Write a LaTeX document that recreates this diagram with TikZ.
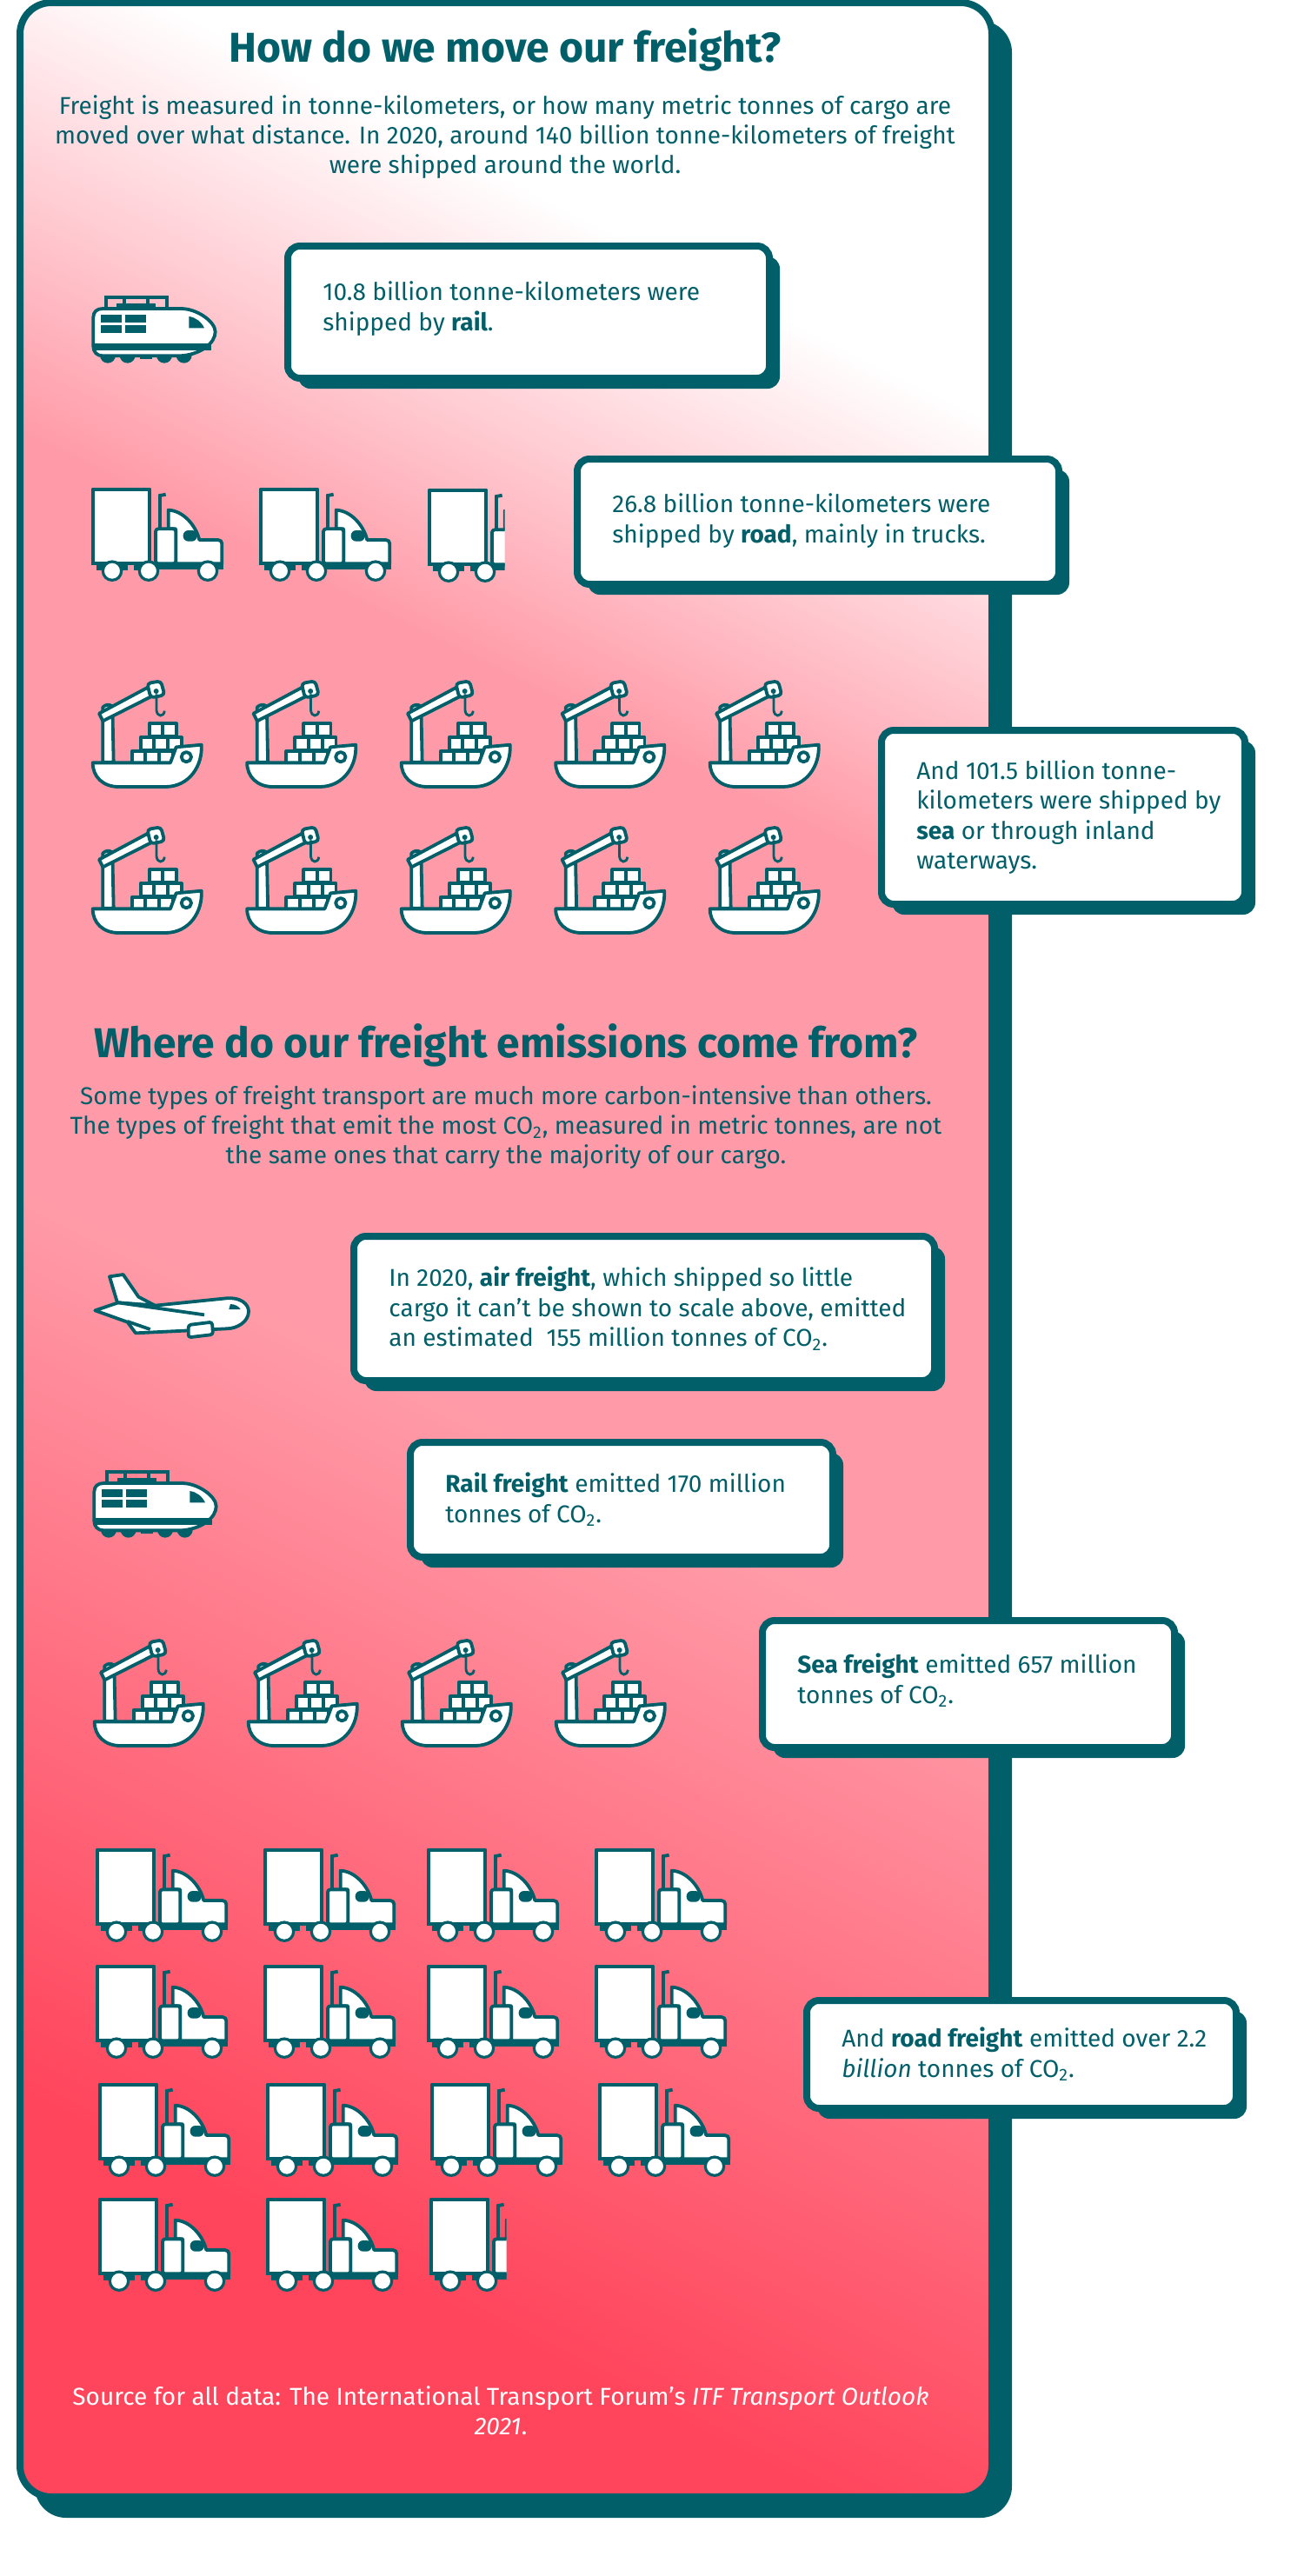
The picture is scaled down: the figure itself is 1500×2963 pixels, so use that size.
\documentclass[tikz,border=0pt]{standalone}
\usepackage{fontspec}
\setmainfont{Fira Sans}
\usetikzlibrary{shadows,positioning}

\definecolor{freightteal}{HTML}{005F69}
\definecolor{freightpink}{HTML}{FF9BA8}
\definecolor{freightred}{HTML}{FF455C}

\pgfdeclareverticalshading{panelgrad}{1701bp}{color(0bp)=(freightred); color(295bp)=(freightred); color(758bp)=(freightpink); color(1145bp)=(freightpink); color(1400bp)=(white); color(1701bp)=(white)}

\newcommand{\truckparts}{
	\fill[iconfill] (45,288) rectangle (252,300);
	\fill[iconfill] (62,298) rectangle (170,318);
	\fill[iconfill] (192,298) rectangle (265,318);
	\draw[iconline] (50,38) rectangle (247,293);
	% Exhaust
	\draw[freightteal, line width=1.9pt] (282,175) -- (282,60) -- (302,56);
	\draw[iconline] (311,175) -- (311,110) .. controls (360,112) and (405,160) .. (418,213) -- (482,213)
		.. controls (490,213) and (496,218) .. (496,226) -- (496,295) -- (337,295) -- (337,175) -- cycle;
	\draw[iconline, rounded corners=1.5pt] (267,295) -- (267,175) -- (337,175) -- (337,295) -- cycle;
	\fill[iconfill, rounded corners=3pt] (362,180) rectangle (410,218);
	\fill[iconfill] (262,292) rectangle (500,315);
	% Wheels
	\foreach \wx in {117,243,447} {
		\draw[freightteal, fill=white, line width=1.6pt] (\wx,320) circle (32);
	}
}

\tikzset{
	headline/.style={text=freightteal, inner sep=0, font=\fontsize{24}{29}\selectfont\bfseries},
	bodytext/.style={text=freightteal, inner sep=0, align=center, font=\fontsize{14}{17}\selectfont},
	infobox/.style={draw=freightteal, line width=4pt, fill=white, rounded corners=7pt, inner sep=0pt,
		general shadow={fill=freightteal, shadow xshift=6pt, shadow yshift=-6pt}},
	infotext/.style={text=freightteal, inner sep=0pt, align=left, font=\fontsize{14}{17.3}\selectfont},
	icon/.style={scale=1/3},
	iconline/.style={draw=freightteal, line width=1.9pt, fill=white, line join=round},
	iconfill/.style={fill=freightteal},
	trainicon/.pic={
		% Roof gear
		\draw[freightteal, line width=1.9pt] (125,100) -- (125,67) -- (335,67) -- (335,100);
		\draw[freightteal, line width=1.9pt] (190,67) -- (190,90) (270,67) -- (270,90);
		\fill[iconfill] (162,87) rectangle (297,102);
		\draw[iconline] (82,225) -- (82,135) .. controls (82,115) and (95,105) .. (115,105) -- (385,105)
			.. controls (440,105) and (503,150) .. (503,185) .. controls (503,225) and (450,265) .. (380,268)
			-- (115,268) .. controls (95,268) and (82,255) .. (82,235) -- cycle;
		\fill[iconfill] (78,225) rectangle (488,248);
		\foreach \wx in {132,200,327,395} {
			\fill[iconfill] (\wx-27,266) arc (180:360:27 and -27) -- cycle;
		}
		\fill[iconfill] (243,268) rectangle (285,278);
		% Windows
		\fill[iconfill] (108,126) rectangle (180,152);
		\fill[iconfill] (192,126) rectangle (264,152);
		\fill[iconfill] (108,162) rectangle (180,188);
		\fill[iconfill] (192,162) rectangle (264,188);
		\fill[iconfill] (412,132) -- (412,172) -- (465,172) .. controls (455,150) and (435,135) .. (412,132) -- cycle;
	},
	truckicon/.pic={\truckparts},
	truckcrop/.pic={
		\clip (0,0) rectangle (311,380);
		\truckparts
	},
	shipicon/.pic={
		% Crane
		\draw[iconline] (85,320) -- (85,130) .. controls (95,120) and (110,120) .. (118,128) -- (122,320) -- cycle;
		\draw[iconline] (72,152) -- (240,62) -- (255,92) -- (85,178) -- cycle;
		\draw[iconline, rounded corners=2pt] (238,48) -- (285,40) -- (298,88) -- (250,98) -- cycle;
		\fill[iconfill] (269,75) circle (9);
		\draw[freightteal, line width=1.4pt] (270,85) -- (270,140) .. controls (272,165) and (295,165) .. (298,143);
		% Cargo
		\foreach \bx in {245,292} {\draw[iconline] (\bx,187) rectangle ++(47,44);}
		\foreach \bx in {215,262,310} {\draw[iconline] (\bx,235) rectangle ++(47,44);}
		\foreach \bx in {185,232,280} {\draw[iconline] (\bx,283) rectangle ++(47,40);}
		\draw[iconline] (50,322) -- (318,322) -- (338,268) -- (425,260) .. controls (430,330) and (385,405) .. (300,405)
			-- (140,405) .. controls (85,405) and (50,370) .. (50,322) -- cycle;
		\draw[iconline] (373,302) circle (17);
	},
	planeicon/.pic={
		\draw[iconline] (105,145) -- (78,55) -- (125,48) -- (178,125) -- (235,155) -- cycle;
		\draw[iconline] (28,172) -- (108,145) -- (235,155) -- (480,130) .. controls (530,125) and (558,150) .. (558,175)
			.. controls (558,210) and (520,235) .. (480,235) -- (168,250) -- (140,212) -- cycle;
		\draw[freightteal, line width=1.9pt] (108,145) -- (405,187) (140,210) -- (218,237);
		\draw[iconline, rounded corners=1.5pt] (350,222) -- (432,212) -- (435,255) -- (350,265) -- cycle;
		\fill[iconfill] (495,150) .. controls (510,150) and (525,158) .. (530,168) -- (490,168) -- cycle;
	}
}

\begin{document}
\begin{tikzpicture}[x=0.5pt,y=-0.5pt]
	\useasboundingbox (0,0) rectangle (1500,2963);

	% Panel
	\fill[freightteal, rounded corners=18pt] (40,24) rectangle (1164,2896);
	\begin{scope}
		\clip[rounded corners=18pt] (23,3) rectangle (1141,2872);
		\node[rotate=-26.6, inner sep=0] (panelshade) at (580,1437) {\pgfuseshading{panelgrad}};
	\end{scope}
	\draw[freightteal, line width=4pt, rounded corners=18pt] (23,3) rectangle (1141,2872);

	% Freight headings
	\node[headline] (movetitle) at (581,57) {How do we move our freight?};
	\node[bodytext] (movetext) at (581,158) {Freight is measured in tonne-kilometers, or how many metric tonnes of cargo are\\
		moved over what distance. In 2020, around 140 billion tonne-kilometers of freight\\
		were shipped around the world.};

	\node[infobox, minimum width=277pt, minimum height=76pt] (railbox) at (608,359) {};
	\node[infotext, right=22pt of railbox.west, yshift=2pt] (railtext) {10.8 billion tonne-kilometers were\\shipped by \textbf{rail}.};
	\node[infobox, minimum width=277pt, minimum height=72pt] (roadbox) at (941,600) {};
	\node[infotext, right=22pt of roadbox.west, yshift=0.5pt] (roadtext) {26.8 billion tonne-kilometers were\\shipped by \textbf{road}, mainly in trucks.};
	\node[infobox, minimum width=209pt, minimum height=100pt] (seabox) at (1223,940) {};
	\node[infotext, right=22pt of seabox.west] (seatext) {And 101.5 billion tonne-\\kilometers were shipped by\\\textbf{sea} or through inland\\waterways.};

	\pic[icon] at (80,320) {trainicon};
	\foreach \col in {0,1} {
		\pic[icon] at ({90+193*\col},550) {truckicon};
	}
	\pic[icon] at (477,551) {truckcrop};
	\foreach \col in {0,...,4} {
		\foreach \row in {0,1} {
			\pic[icon] at ({90+177.5*\col},{770+168*\row}) {shipicon};
		}
	}

	% Emission headings
	\node[headline] (emittitle) at (582,1202) {Where do our freight emissions come from?};
	\node[bodytext] (emittext) at (582,1297) {Some types of freight transport are much more carbon-intensive than others.\\
		The types of freight that emit the most CO\textsubscript{2}, measured in metric tonnes, are not\\
		the same ones that carry the majority of our cargo.};

	\node[infobox, minimum width=334pt, minimum height=83pt] (airbox) at (741,1505) {};
	\node[infotext, right=22pt of airbox.west] (airtext) {In 2020, \textbf{air freight}, which shipped so little\\cargo it can’t be shown to scale above, emitted\\an estimated\ \ 155 million tonnes of CO\textsubscript{2}.};
	\node[infobox, minimum width=243pt, minimum height=66pt] (railemitbox) at (715,1725) {};
	\node[infotext, right=22pt of railemitbox.west] (railemittext) {\textbf{Rail freight} emitted 170 million\\tonnes of CO\textsubscript{2}.};
	\node[infobox, minimum width=237pt, minimum height=73pt] (seaemitbox) at (1114,1937) {};
	\node[infotext, right=22pt of seaemitbox.west, yshift=2pt] (seaemittext) {\textbf{Sea freight} emitted 657 million\\tonnes of CO\textsubscript{2}.};
	\node[infobox, minimum width=247pt, minimum height=62pt] (roademitbox) at (1175,2363) {};
	\node[infotext, right=22pt of roademitbox.west] (roademittext) {And \textbf{road freight} emitted over 2.2\\\textit{billion} tonnes of CO\textsubscript{2}.};

	\pic[icon] at (100,1450) {planeicon};
	\pic[icon] at (81,1671) {trainicon};
	\foreach \col in {0,...,3} {
		\pic[icon] at ({92+177*\col},1873) {shipicon};
	}

	\foreach \cx in {95,288,476,669} {
		\pic[icon] at (\cx,2115) {truckicon};
		\pic[icon] at (\cx,2249) {truckicon};
	}
	\foreach \cx in {98,291,480,673} {
		\pic[icon] at (\cx,2385) {truckicon};
	}
	\foreach \cx in {98,291} {
		\pic[icon] at (\cx,2517) {truckicon};
	}
	\pic[icon] at (479,2517) {truckcrop};

	\node[bodytext, text=white] (sourcetext) at (576,2773) {Source for all data: The International Transport Forum’s \textit{ITF Transport Outlook}\\\textit{2021}.};
\end{tikzpicture}
\end{document}
